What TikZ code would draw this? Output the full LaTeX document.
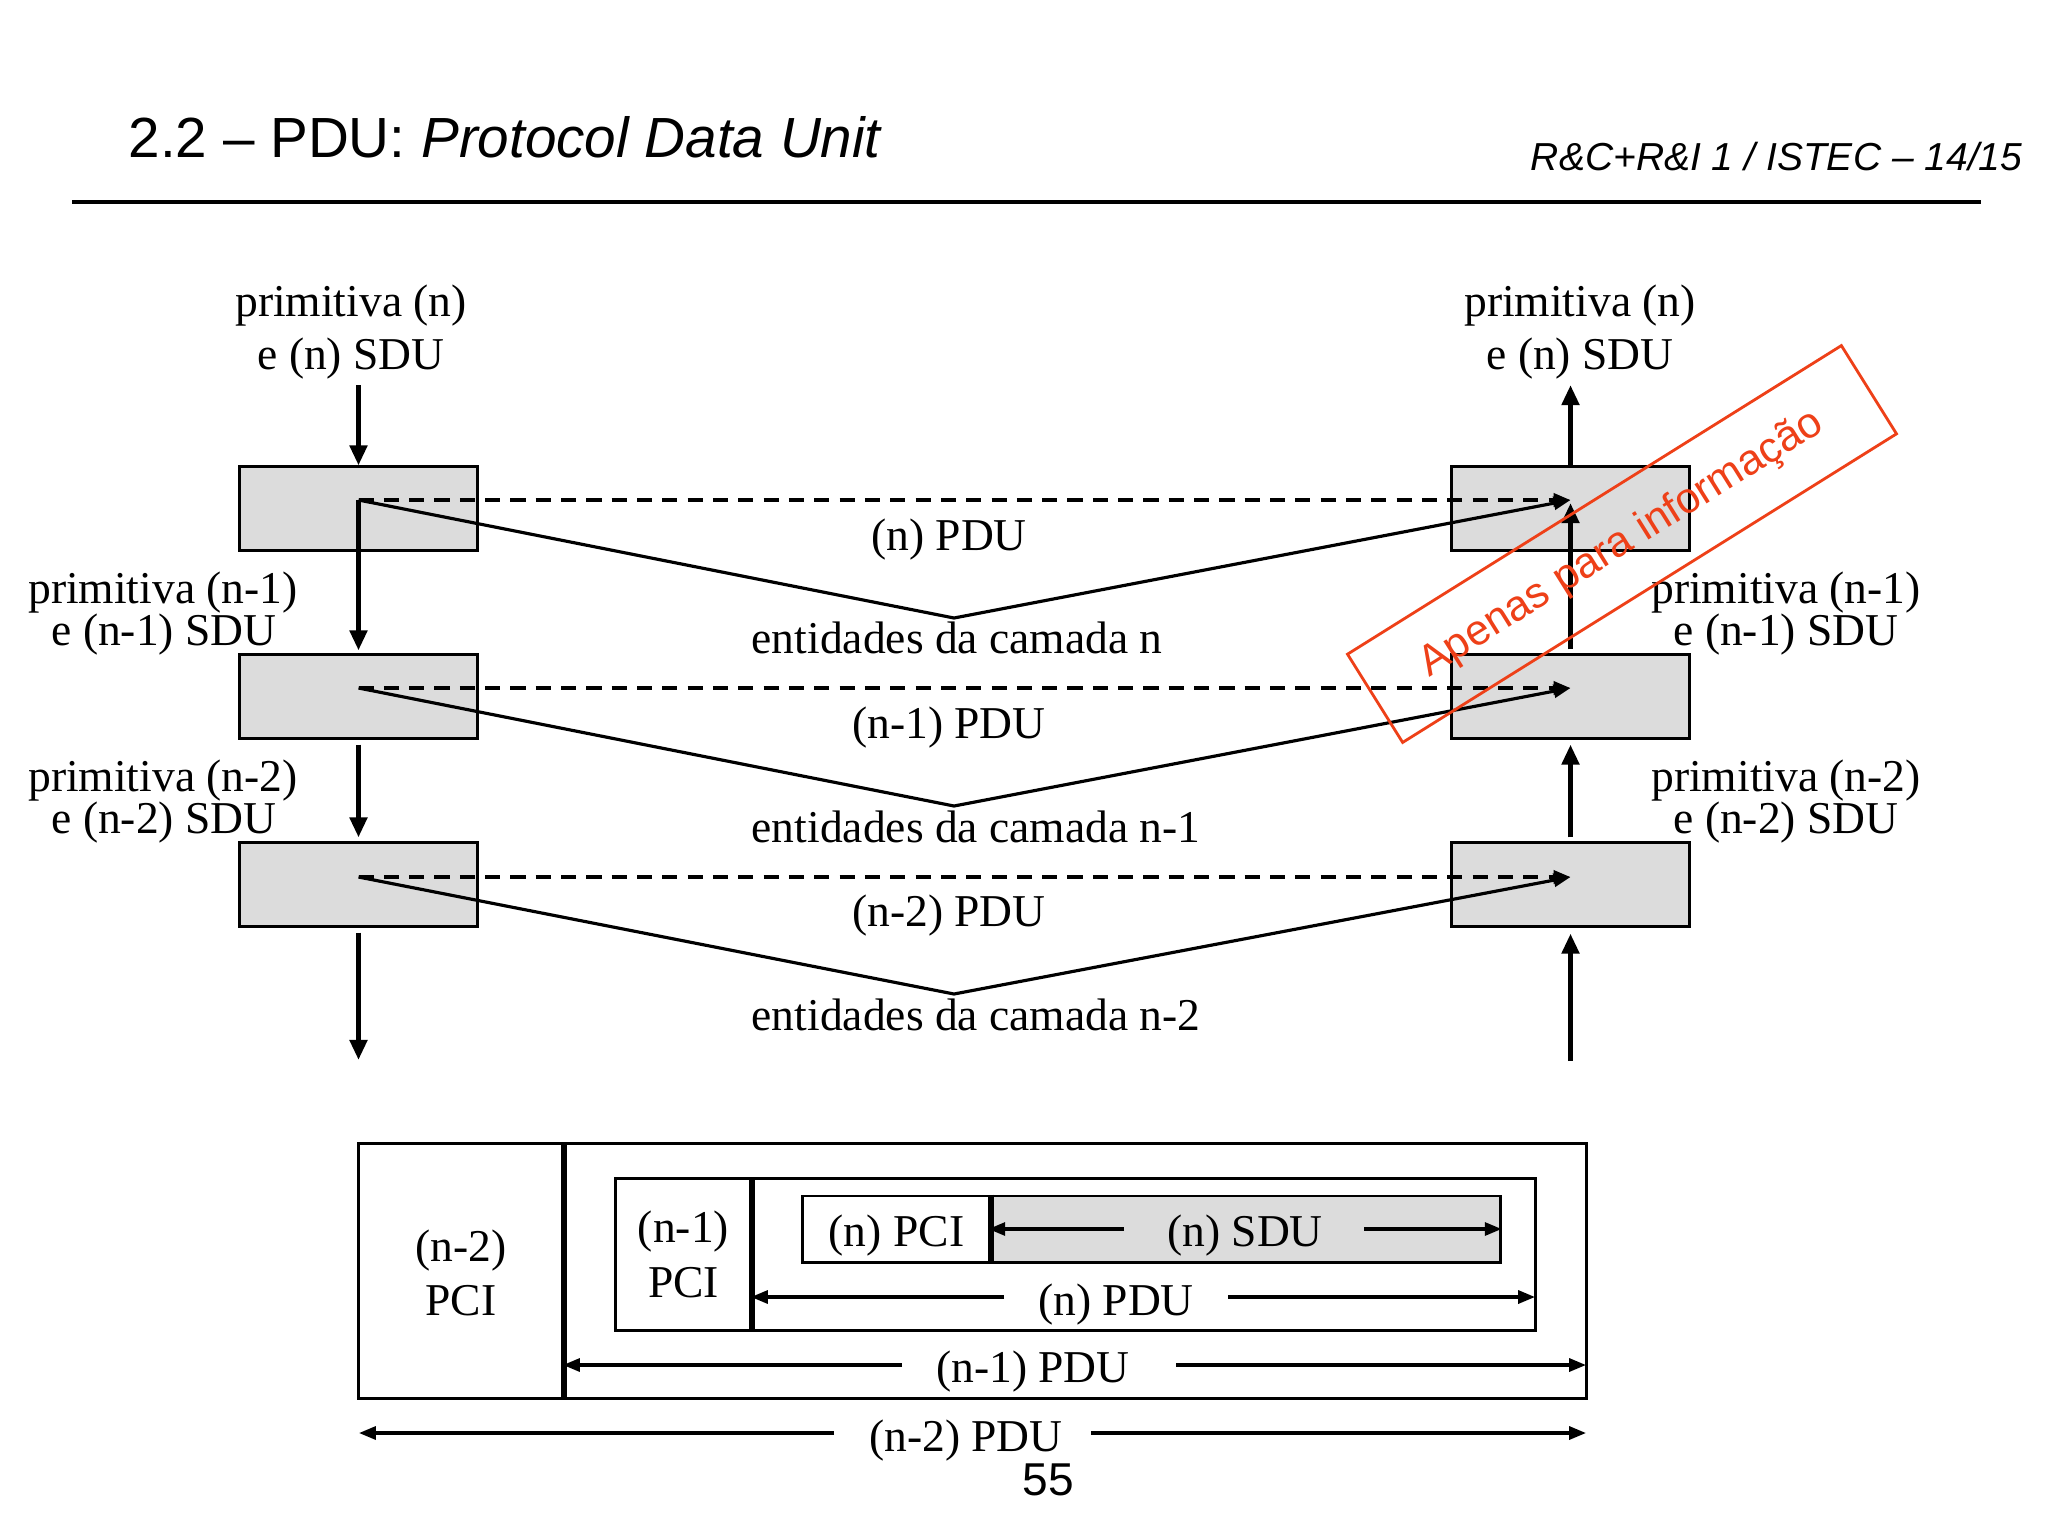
\documentclass[tikz,border=0pt]{standalone}
\usepackage{fontspec}
\setmainfont{Liberation Serif}
\newfontfamily\arialf{Liberation Sans}
\usetikzlibrary{arrows.meta}
\definecolor{boxgray}{RGB}{220,220,220}
\definecolor{wmred}{RGB}{238,64,24}
\begin{document}
\begin{tikzpicture}[x=0.01cm,y=-0.01cm,
  lbl/.style={font=\fontsize{12.95}{15}\selectfont, inner sep=0pt, anchor=base},
  entbox/.style={draw, line width=0.85pt, fill=boxgray, minimum width=2.37cm, minimum height=0.83cm, inner sep=0pt},
  varrow/.style={line width=1.5pt, -{Triangle[length=5.7pt,width=4.8pt]}},
  pdash/.style={line width=1pt, dash pattern=on 4.3pt off 2.9pt, -{Triangle[length=4.8pt,width=3.7pt]}},
  pline/.style={line width=0.9pt, line join=miter, -{Triangle[length=4.8pt,width=3.7pt]}},
  dimarrow/.style={line width=0.9pt, -{Triangle[length=4.8pt,width=3.7pt]}},
  cell/.style={draw, line width=0.85pt, inner sep=0pt},
  divider/.style={line width=1.4pt},
  ]
\useasboundingbox[fill=white] (0,0) rectangle (2048,1536);

% header
\node[anchor=base west, inner sep=0pt, font=\arialf\fontsize{16.1}{19}\selectfont] (title) at (128,157) {2.2 – PDU: \textit{Protocol Data Unit}};
\node[anchor=base east, inner sep=0pt, font=\arialf\itshape\fontsize{11.1}{13}\selectfont] (hdr) at (2023,170) {R\&C+R\&I 1 / ISTEC – 14/15};
\draw[line width=0.9pt] (72,202) -- (1981,202);

% entity boxes
\node[entbox] (L1) at (358.5,508.5) {};
\node[entbox] (L2) at (358.5,696.5) {};
\node[entbox] (L3) at (358.5,884.5) {};
\node[entbox] (R1) at (1570.5,508.5) {};
\node[entbox] (R2) at (1570.5,696.5) {};
\node[entbox] (R3) at (1570.5,884.5) {};

% points
\coordinate (a1) at (358.5,500);
\coordinate (a2) at (358.5,688);
\coordinate (a3) at (358.5,877);
\coordinate (b1) at (1570.5,500);
\coordinate (b2) at (1570.5,688);
\coordinate (b3) at (1570.5,877);
\coordinate (v1) at (954,618);
\coordinate (v2) at (954,806);
\coordinate (v3) at (954,994);
\coordinate (lt) at (358.5,385);
\coordinate (lb) at (358.5,1060);
\coordinate (rt) at (1570.5,385);
\coordinate (rb) at (1570.5,1061);

% peer protocol lines
\draw[pdash] (a1) -- (b1);
\draw[pdash] (a2) -- (b2);
\draw[pdash] (a3) -- (b3);
\draw[pline] (a1) -- (v1) -- (b1);
\draw[pline] (a2) -- (v2) -- (b2);
\draw[pline] (a3) -- (v3) -- (b3);

% vertical arrows
\draw[varrow] (lt) -- (L1.north);
\draw[varrow] (a1) -- ([yshift=0.03cm]L2.north);
\draw[varrow] ([yshift=-0.05cm]L2.south) -- ([yshift=0.04cm]L3.north);
\draw[varrow] ([yshift=-0.05cm]L3.south) -- (lb);
\draw[varrow] (R1.north) -- (rt);
\draw[varrow] ([yshift=0.04cm]R2.north) -- ([yshift=-0.03cm]b1);
\draw[varrow] ([yshift=0.04cm]R3.north) -- ([yshift=-0.05cm]R2.south);
\draw[varrow] (rb) -- ([yshift=-0.06cm]R3.south);

% labels
\node[lbl] (tl1) at (351,316) {primitiva (n)};
\node[lbl] (tl2) at (351,369) {e (n) SDU};
\node[lbl] (tr1) at (1580,316) {primitiva (n)};
\node[lbl] (tr2) at (1580,369) {e (n) SDU};
\node[lbl] (ml1) at (163,603) {primitiva (n-1)};
\node[lbl] (ml2) at (164,645) {e (n-1) SDU};
\node[lbl] (nl1) at (163,791) {primitiva (n-2)};
\node[lbl] (nl2) at (164,833) {e (n-2) SDU};
\node[lbl] (mr1) at (1786,603) {primitiva (n-1)};
\node[lbl] (mr2) at (1786,645) {e (n-1) SDU};
\node[lbl] (nr1) at (1786,791) {primitiva (n-2)};
\node[lbl] (nr2) at (1786,833) {e (n-2) SDU};

\node[lbl] (p0) at (949,550) {(n) PDU};
\node[lbl] (p1) at (949,738) {(n-1) PDU};
\node[lbl] (p2) at (949,926) {(n-2) PDU};
\node[lbl, anchor=base west] (e0) at (751,653) {entidades da camada n};
\node[lbl, anchor=base west] (e1) at (751,842) {entidades da camada n-1};
\node[lbl, anchor=base west] (e2) at (751,1030) {entidades da camada n-2};

% encapsulation diagram
\node[cell, minimum width=2.04cm, minimum height=2.54cm] (pci2) at (461,1271) {};
\node[cell, minimum width=10.23cm, minimum height=2.54cm] (n1pdu) at (1074.5,1271) {};
\node[cell, minimum width=1.35cm, minimum height=1.51cm] (pci1) at (683.5,1254.5) {};
\node[cell, minimum width=7.84cm, minimum height=1.51cm] (n0pdu) at (1143,1254.5) {};
\node[cell, minimum width=1.87cm, minimum height=0.66cm] (pci0) at (896.5,1229) {};
\node[cell, fill=boxgray, minimum width=5.10cm, minimum height=0.66cm] (sdu0) at (1245,1229) {};
\draw[divider] (pci2.north east) -- (pci2.south east);
\draw[divider] (pci1.north east) -- (pci1.south east);
\draw[divider] (pci0.north east) -- (pci0.south east);

\node[lbl] (t2a) at (461,1261) {(n-2)};
\node[lbl] (t2b) at (461,1315) {PCI};
\node[lbl] (t1a) at (683.5,1242) {(n-1)};
\node[lbl] (t1b) at (683.5,1297) {PCI};
\node[lbl] (t0) at (896.5,1246) {(n) PCI};
\node[lbl] (tsdu) at (1245,1246) {(n) SDU};
\node[lbl] (tp0) at (1116,1315) {(n) PDU};
\node[lbl] (tp1) at (1033,1382) {(n-1) PDU};
\node[lbl] (tp2) at (966,1451) {(n-2) PDU};

\coordinate (s0l) at (1124,1229);
\coordinate (s0r) at (1364,1229);
\coordinate (q0l) at (1004,1297);
\coordinate (q0r) at (1228,1297);
\coordinate (q0le) at (751,1297);
\coordinate (q0re) at (1535,1297);
\coordinate (q1l) at (902,1365);
\coordinate (q1r) at (1176,1365);
\coordinate (q1le) at (563,1365);
\coordinate (q1re) at (1586,1365);
\coordinate (q2l) at (834,1433);
\coordinate (q2r) at (1091,1433);
\coordinate (q2le) at (359,1433);
\coordinate (q2re) at (1586,1433);
\draw[dimarrow] (s0l) -- (sdu0.west);
\draw[dimarrow] (s0r) -- (sdu0.east);
\draw[dimarrow] (q0l) -- (q0le);
\draw[dimarrow] (q0r) -- (q0re);
\draw[dimarrow] (q1l) -- (q1le);
\draw[dimarrow] (q1r) -- (q1re);
\draw[dimarrow] (q2l) -- (q2le);
\draw[dimarrow] (q2r) -- (q2re);

\node[anchor=base, inner sep=0pt, font=\arialf\fontsize{13.1}{15}\selectfont] (pagenum) at (1048,1495) {55};

% watermark
\node[draw=wmred, line width=0.8pt, rotate=32, minimum width=5.82cm, minimum height=1.04cm, inner sep=0pt, text=wmred, font=\arialf\fontsize{12.2}{14}\selectfont] (wm) at (1622,544) {Apenas para informação};
\end{tikzpicture}
\end{document}
